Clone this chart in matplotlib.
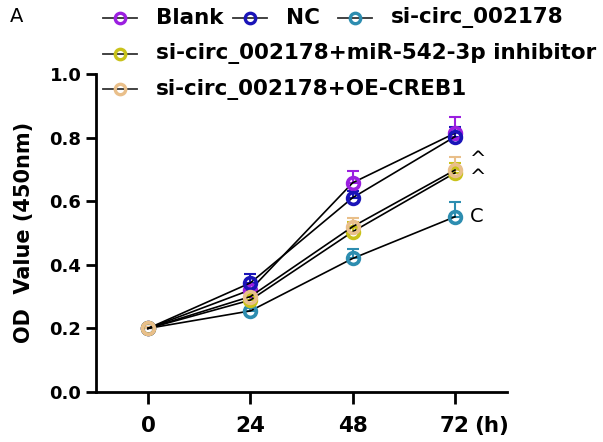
import matplotlib
matplotlib.use("Agg")
import matplotlib.pyplot as plt
from matplotlib.lines import Line2D
from matplotlib.transforms import offset_copy
import numpy as np

plt.rcParams['font.family'] = ['DejaVu Sans']

hours = [0, 24, 48, 72]
tick_labels = ["0", "24", "48", "72"]
groups = ["Blank", "NC", "si-circ_002178",
          "si-circ_002178+miR-542-3p inhibitor", "si-circ_002178+OE-CREB1"]
blank = [0.20, 0.321, 0.658, 0.814]
blank_err = [0.005, 0.02, 0.037, 0.05]
nc = [0.20, 0.343, 0.611, 0.803]
nc_err = [0.005, 0.028, 0.02, 0.03]
si = [0.20, 0.255, 0.42, 0.551]
si_err = [0.005, 0.01, 0.03, 0.047]
inhib = [0.20, 0.289, 0.504, 0.689]
inhib_err = [0.005, 0.015, 0.03, 0.03]
oe = [0.20, 0.30, 0.52, 0.698]
oe_err = [0.005, 0.015, 0.027, 0.04]
colors = ["#9b1fe0", "#1a14b8", "#2d8db0", "#c9c21a", "#e9bf8a"]
annots = [("^", 0.73), ("^", 0.673), ("C", 0.551)]

series = [blank, nc, si, inhib, oe]
errs = [blank_err, nc_err, si_err, inhib_err, oe_err]

W, H = 603, 442
fig = plt.figure(figsize=(W / 100, H / 100), dpi=100)
ax = fig.add_axes([96 / W, 1 - 392 / H, (507 - 96) / W, (392 - 74) / H])

for vals, err, c in zip(series, errs, colors):
    ax.errorbar(hours, vals, yerr=[np.zeros(len(err)), err], fmt='none',
                ecolor=c, elinewidth=1.5, capsize=4.5, capthick=1.5, zorder=2)
    ax.plot(hours, vals, color='black', lw=1.2, zorder=3,
            marker='o', markersize=8.5, markerfacecolor='none',
            markeredgecolor=c, markeredgewidth=2.6)

for txt, yv in annots:
    ax.text(72 + 3.6, yv, txt, fontsize=14, ha='left', va='center')

xlen, xpad = 8.6, 8.5
ax.set_xlim(-12.2, 84.2)
ax.set_ylim(0, 1.0)
ax.set_xticks(hours)
ax.set_xticklabels(tick_labels, fontsize=15.5, fontweight='bold')
ax.set_yticks([0.0, 0.2, 0.4, 0.6, 0.8, 1.0])
ax.set_yticklabels(["0.0", "0.2", "0.4", "0.6", "0.8", "1.0"], fontsize=13, fontweight='bold')
ax.tick_params(axis='x', length=xlen, width=2, pad=xpad)
ax.tick_params(axis='y', length=7, width=2, pad=3.5)
for s in ['top', 'right']:
    ax.spines[s].set_visible(False)
for s in ['left', 'bottom']:
    ax.spines[s].set_linewidth(2)
ax.set_ylabel("OD  Value (450nm)", fontsize=15, fontweight='bold')
ax.yaxis.set_label_coords(-(96 - 34) / (507 - 96), (392 - 232) / (392 - 74))
htr = offset_copy(ax.get_xaxis_transform(), fig=fig, x=0, y=-(xlen + xpad), units='points')
ax.text(76.6, 0, "(h)", transform=htr, fontsize=15.5, fontweight='bold', ha='left', va='top')

fig.text(10 / W, 1 - 17 / H, "A", fontsize=14, ha='left', va='center')

# legend (manual layout)
def leg_item(x0, y, c, label):
    yf = 1 - y / H
    fig.add_artist(Line2D([x0 / W, (x0 + 34) / W], [yf, yf], color='#333333', lw=1.3,
                          transform=fig.transFigure))
    fig.add_artist(Line2D([(x0 + 17) / W], [yf], marker='o', markersize=7.5,
                          markerfacecolor='none', markeredgecolor=c, markeredgewidth=2.4,
                          transform=fig.transFigure))
    fig.text((x0 + 53) / W, yf, label, fontsize=15.5, fontweight='bold', ha='left', va='center')

leg_item(103, 18, colors[0], groups[0])
leg_item(233, 18, colors[1], groups[1])
leg_item(338, 18, colors[2], groups[2])
leg_item(103, 54, colors[3], groups[3])
leg_item(103, 89, colors[4], groups[4])

fig.savefig("out.png", dpi=100)
